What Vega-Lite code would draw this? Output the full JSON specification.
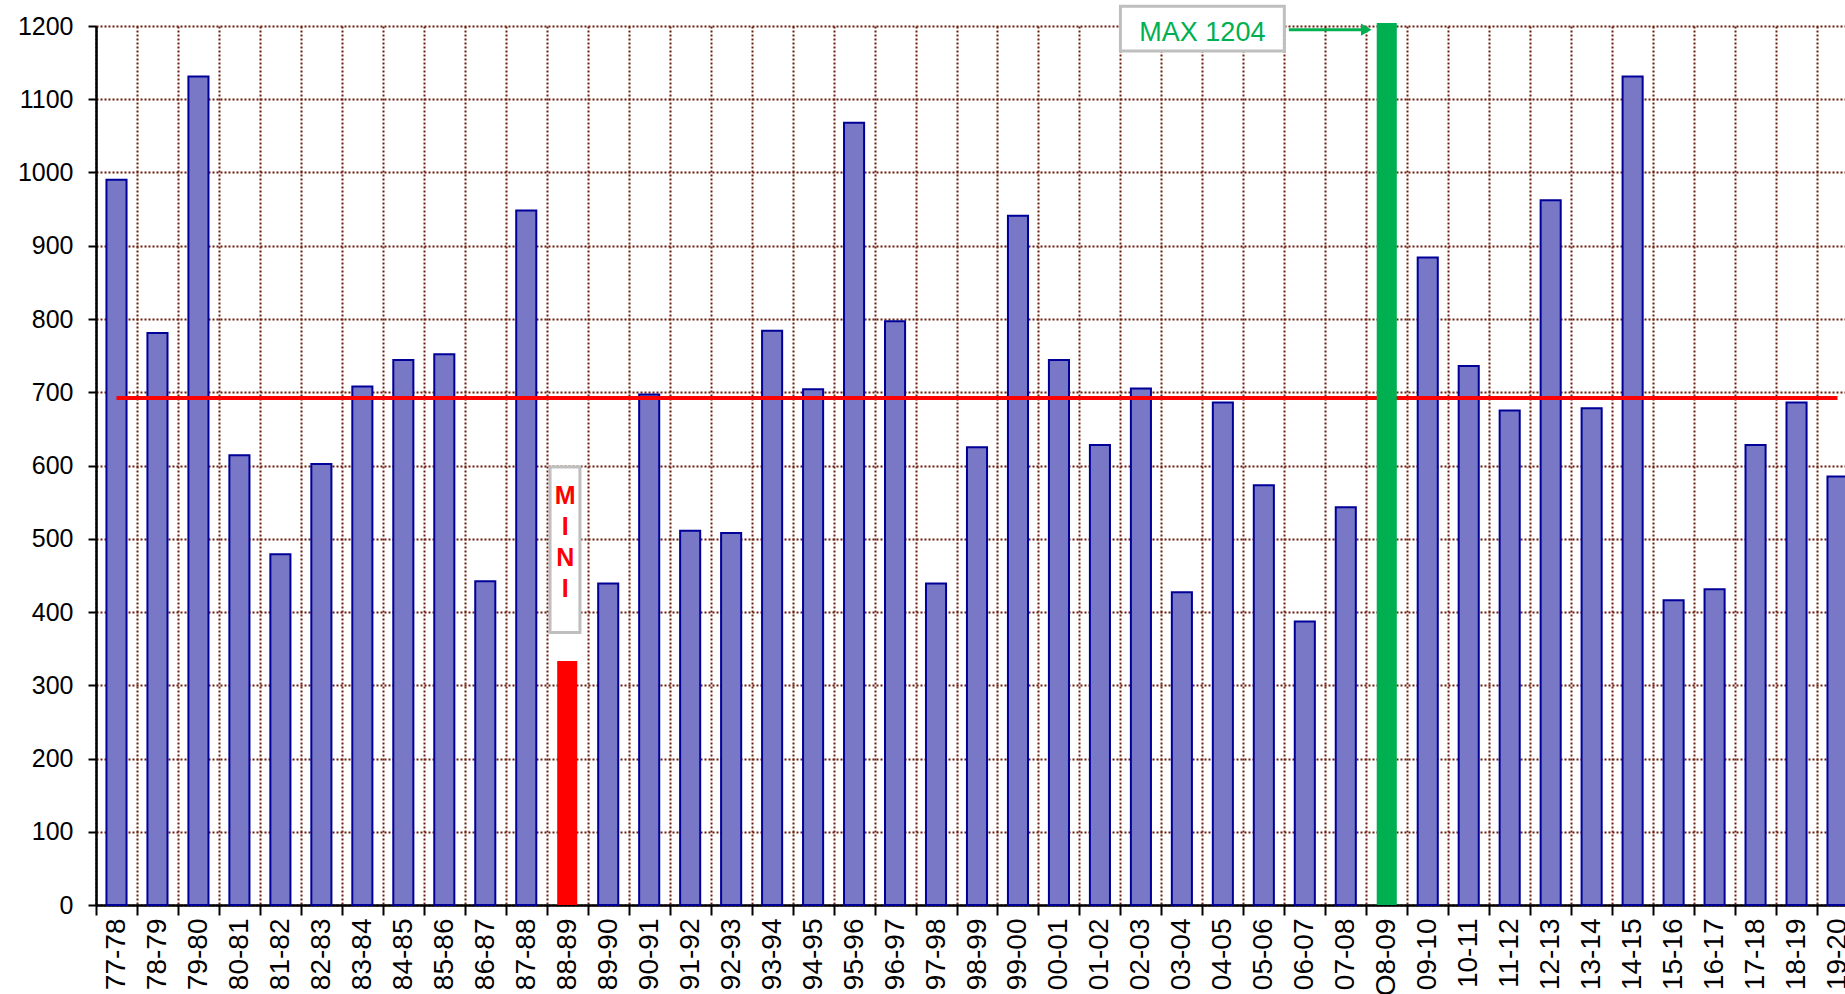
{
  "$schema": "https://vega.github.io/schema/vega-lite/v6.json",
  "width": 1749,
  "height": 879,
  "autosize": {"type": "none"},
  "padding": {"left": 96, "top": 26, "right": 0, "bottom": 89},
  "background": "white",
  "config": {"view": {"stroke": null}, "font": "Liberation Sans"},
  "data": {"values": [
    {"season": "77-78", "value": 990, "kind": "n"},
    {"season": "78-79", "value": 781, "kind": "n"},
    {"season": "79-80", "value": 1131, "kind": "n"},
    {"season": "80-81", "value": 614, "kind": "n"},
    {"season": "81-82", "value": 479, "kind": "n"},
    {"season": "82-83", "value": 602, "kind": "n"},
    {"season": "83-84", "value": 708, "kind": "n"},
    {"season": "84-85", "value": 744, "kind": "n"},
    {"season": "85-86", "value": 752, "kind": "n"},
    {"season": "86-87", "value": 442, "kind": "n"},
    {"season": "87-88", "value": 948, "kind": "n"},
    {"season": "88-89", "value": 333, "kind": "min"},
    {"season": "89-90", "value": 439, "kind": "n"},
    {"season": "90-91", "value": 697, "kind": "n"},
    {"season": "91-92", "value": 511, "kind": "n"},
    {"season": "92-93", "value": 508, "kind": "n"},
    {"season": "93-94", "value": 784, "kind": "n"},
    {"season": "94-95", "value": 704, "kind": "n"},
    {"season": "95-96", "value": 1068, "kind": "n"},
    {"season": "96-97", "value": 797, "kind": "n"},
    {"season": "97-98", "value": 439, "kind": "n"},
    {"season": "98-99", "value": 625, "kind": "n"},
    {"season": "99-00", "value": 941, "kind": "n"},
    {"season": "00-01", "value": 744, "kind": "n"},
    {"season": "01-02", "value": 628, "kind": "n"},
    {"season": "02-03", "value": 705, "kind": "n"},
    {"season": "03-04", "value": 427, "kind": "n"},
    {"season": "04-05", "value": 686, "kind": "n"},
    {"season": "05-06", "value": 573, "kind": "n"},
    {"season": "06-07", "value": 387, "kind": "n"},
    {"season": "07-08", "value": 543, "kind": "n"},
    {"season": "O8-09", "value": 1204, "kind": "max"},
    {"season": "09-10", "value": 884, "kind": "n"},
    {"season": "10-11", "value": 736, "kind": "n"},
    {"season": "11-12", "value": 675, "kind": "n"},
    {"season": "12-13", "value": 962, "kind": "n"},
    {"season": "13-14", "value": 678, "kind": "n"},
    {"season": "14-15", "value": 1131, "kind": "n"},
    {"season": "15-16", "value": 416, "kind": "n"},
    {"season": "16-17", "value": 431, "kind": "n"},
    {"season": "17-18", "value": 628, "kind": "n"},
    {"season": "18-19", "value": 686, "kind": "n"},
    {"season": "19-20", "value": 585, "kind": "n"}
  ]},
  "layer": [
    {
      "transform": [{"filter": "datum.kind == 'n'"}],
      "mark": {"type": "bar", "width": {"band": 0.49}, "fill": "#7878c6", "stroke": "#000099", "strokeWidth": 2},
      "encoding": {
        "x": {
          "field": "season", "type": "nominal", "sort": null,
          "scale": {
            "domain": ["77-78","78-79","79-80","80-81","81-82","82-83","83-84","84-85","85-86","86-87","87-88","88-89","89-90","90-91","91-92","92-93","93-94","94-95","95-96","96-97","97-98","98-99","99-00","00-01","01-02","02-03","03-04","04-05","05-06","06-07","07-08","O8-09","09-10","10-11","11-12","12-13","13-14","14-15","15-16","16-17","17-18","18-19","19-20"],
            "paddingInner": 0, "paddingOuter": 0, "range": [0, 1762]
          },
          "axis": {
            "title": null, "tickBand": "extent", "labelAngle": -90, "labelFontSize": 28, "labelColor": "black",
            "labelPadding": 3, "labelOverlap": false, "tickSize": 10, "tickColor": "black", "tickWidth": 2,
            "domainColor": "black", "domainWidth": 2.5,
            "grid": true, "gridColor": "#6E1C0C", "gridDash": [2, 2], "gridWidth": 2
          }
        },
        "y": {
          "field": "value", "type": "quantitative",
          "scale": {"domain": [0, 1200], "nice": false},
          "axis": {
            "title": null, "values": [0,100,200,300,400,500,600,700,800,900,1000,1100,1200], "format": "d",
            "labelFontSize": 25, "labelColor": "black", "labelPadding": 15,
            "tickSize": 8, "tickColor": "black", "tickWidth": 2,
            "domainColor": "black", "domainWidth": 2.5,
            "grid": true, "gridColor": "#6E1C0C", "gridDash": [2, 2], "gridWidth": 2
          }
        }
      }
    },
    {
      "data": {"values": [{"start": "77-78", "end": "19-20", "avg": 692}]},
      "mark": {"type": "rule", "color": "#FF0000", "strokeWidth": 4},
      "encoding": {
        "x": {"field": "start", "type": "nominal", "bandPosition": 0.5},
        "x2": {"field": "end", "bandPosition": 0.5},
        "y": {"field": "avg", "type": "quantitative"}
      }
    },
    {
      "transform": [{"filter": "datum.kind != 'n'"}],
      "mark": {"type": "bar", "width": {"band": 0.49}},
      "encoding": {
        "x": {"field": "season", "type": "nominal"},
        "y": {"field": "value", "type": "quantitative"},
        "color": {"field": "kind", "type": "nominal", "scale": {"domain": ["max", "min"], "range": ["#00B050", "#FF0000"]}, "legend": null}
      }
    },
    {
      "data": {"values": [{"from": "02-03", "to": "06-07", "top": 1227, "bottom": 1166}]},
      "mark": {"type": "rect", "fill": "white", "stroke": "#BFBFBF", "strokeWidth": 3},
      "encoding": {
        "x": {"field": "from", "type": "nominal", "bandPosition": 0},
        "x2": {"field": "to", "bandPosition": 0},
        "y": {"field": "top", "type": "quantitative"},
        "y2": {"field": "bottom"}
      }
    },
    {
      "data": {"values": [{"from": "88-89", "to": "88-89", "top": 598, "bottom": 372}]},
      "mark": {"type": "rect", "fill": "white", "stroke": "#BFBFBF", "strokeWidth": 3},
      "encoding": {
        "x": {"field": "from", "type": "nominal", "bandPosition": 0.08},
        "x2": {"field": "to", "bandPosition": 0.81},
        "y": {"field": "top", "type": "quantitative"},
        "y2": {"field": "bottom"}
      }
    },
    {
      "data": {"values": [{"at": "04-05", "y": 1190, "label": "MAX 1204"}]},
      "mark": {"type": "text", "color": "#00B050", "fontSize": 27, "align": "center", "baseline": "middle"},
      "encoding": {
        "x": {"field": "at", "type": "nominal", "bandPosition": 0},
        "y": {"field": "y", "type": "quantitative"},
        "text": {"field": "label"}
      }
    },
    {
      "data": {"values": [{"at": "88-89", "y": 559, "label": "M\nI\nN\nI"}]},
      "mark": {"type": "text", "color": "#FF0000", "fontSize": 25, "fontWeight": "bold", "align": "center", "baseline": "middle", "lineBreak": "\n", "lineHeight": 31.3},
      "encoding": {
        "x": {"field": "at", "type": "nominal", "bandPosition": 0.45},
        "y": {"field": "y", "type": "quantitative"},
        "text": {"field": "label"}
      }
    },
    {
      "data": {"values": [{"from": "06-07", "to": "O8-09", "y": 1195}]},
      "mark": {"type": "rule", "color": "#00B050", "strokeWidth": 3},
      "encoding": {
        "x": {"field": "from", "type": "nominal", "bandPosition": 0.11},
        "x2": {"field": "to", "bandPosition": 0},
        "y": {"field": "y", "type": "quantitative"}
      }
    },
    {
      "data": {"values": [{"to": "O8-09", "y": 1195}]},
      "mark": {"type": "point", "shape": "triangle-right", "filled": true, "color": "#00B050", "size": 150, "opacity": 1},
      "encoding": {
        "x": {"field": "to", "type": "nominal", "bandPosition": 0},
        "y": {"field": "y", "type": "quantitative"}
      }
    }
  ]
}
